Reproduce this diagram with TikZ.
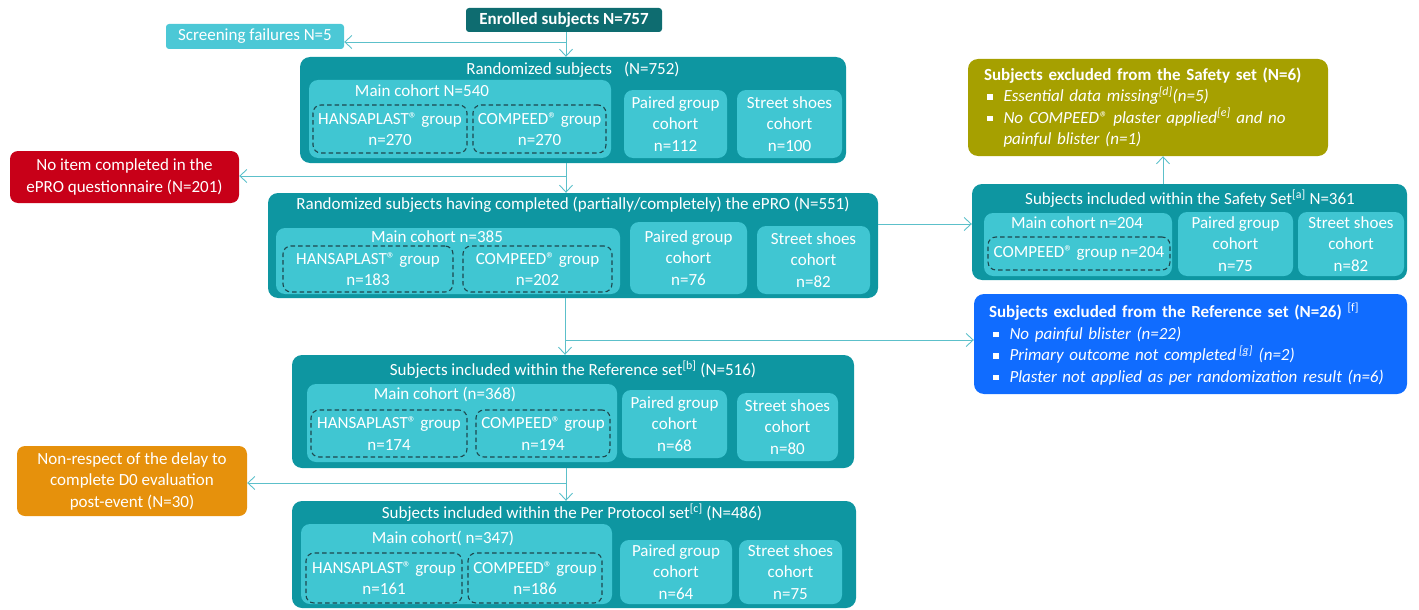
\documentclass[tikz,border=0pt]{standalone}
\usepackage{fontspec}
\setmainfont{Carlito}
\usetikzlibrary{arrows.meta}
\definecolor{darkteal}{RGB}{14,108,112}
\definecolor{midteal}{RGB}{14,150,161}
\definecolor{lightteal}{RGB}{64,198,210}
\definecolor{screencol}{RGB}{76,200,214}
\definecolor{redcol}{RGB}{200,0,24}
\definecolor{olivecol}{RGB}{166,160,0}
\definecolor{bluecol}{RGB}{16,108,255}
\definecolor{orangecol}{RGB}{230,145,12}
\definecolor{conncol}{RGB}{92,192,202}
\definecolor{dashcol}{RGB}{30,72,78}
\newcommand{\bul}{\raisebox{2pt}{\rule{5.5pt}{5.5pt}}}
\begin{document}
\begin{tikzpicture}[x=1pt,y=-1pt,
  font=\fontsize{17}{21.5}\selectfont,
  outerbox/.style={fill=midteal, rounded corners=10pt, inner sep=0pt},
  innerbox/.style={fill=lightteal, rounded corners=9pt, inner sep=0pt, text=white, align=center},
  dashbox/.style={draw=dashcol, dash pattern=on 4.5pt off 3pt, line width=1.1pt, rounded corners=8pt, inner sep=0pt, text=white, align=center},
  solidbox/.style={rounded corners=8pt, inner sep=0pt, text=white, align=center},
  title/.style={text=white, inner sep=0pt},
  conn/.style={draw=conncol, line width=0.9pt},
  arr/.style={conn, -{Straight Barb[length=7pt,width=13pt,line width=0.9pt]}}
]
\useasboundingbox (0,0) rectangle (1419,610);

% Enrolled and screening
\node[solidbox, fill=darkteal, rounded corners=3pt, minimum width=196, minimum height=24, font=\fontsize{17}{21.5}\selectfont\bfseries] (enrolled) at (564,20) {Enrolled subjects N=757};
\node[solidbox, fill=screencol, rounded corners=3pt, minimum width=178, minimum height=25] (screen) at (255,36.5) {Screening failures N=5};

% Randomized
\node[outerbox, minimum width=546, minimum height=106] (rand) at (573,110) {};
\node[title] (randt) at (573,70) {Randomized subjects\hspace{0.7em}(N=752)};
\node[innerbox, minimum width=302, minimum height=78] (rmain) at (460,119) {};
\node[title] (rmaint) at (422,91) {Main cohort N=540};
\node[dashbox, minimum width=154, minimum height=48] (rh) at (390,129) {HANSAPLAST® group\\n=270};
\node[dashbox, minimum width=133, minimum height=48] (rc) at (539.5,129) {COMPEED® group\\n=270};
\node[innerbox, minimum width=103, minimum height=68] (rp) at (675.5,124) {Paired group\\cohort\\n=112};
\node[innerbox, minimum width=105, minimum height=68] (rs) at (789.5,124) {Street shoes\\cohort\\n=100};

% Red
\node[solidbox, fill=redcol, minimum width=229, minimum height=52] (red) at (124.5,177) {No item completed in the\\ePRO questionnaire (N=201)};

% ePRO
\node[outerbox, minimum width=610, minimum height=105] (epro) at (573,245.5) {};
\node[title] (eprot) at (573,205) {Randomized subjects having completed (partially/completely) the ePRO (N=551)};
\node[innerbox, minimum width=344, minimum height=66] (emain) at (448,261) {};
\node[title] (emaint) at (437,237) {Main cohort n=385};
\node[dashbox, minimum width=170, minimum height=46] (eh) at (368,269) {HANSAPLAST® group\\n=183};
\node[dashbox, minimum width=149, minimum height=46] (ec) at (537.5,269) {COMPEED® group\\n=202};
\node[innerbox, minimum width=117, minimum height=72] (ep) at (688.5,258) {Paired group\\cohort\\n=76};
\node[innerbox, minimum width=113, minimum height=68] (es) at (813.5,260) {Street shoes\\cohort\\n=82};

% Safety set
\node[outerbox, minimum width=435, minimum height=96] (safety) at (1189.5,232) {};
\node[title] (safetyt) at (1190,199) {Subjects included within the Safety Set\textsuperscript{[a]} N=361};
\node[innerbox, minimum width=188, minimum height=63] (smain) at (1078,244.5) {};
\node[title] (smaint) at (1077,223) {Main cohort n=204};
\node[dashbox, minimum width=182, minimum height=33] (sc) at (1079,253.5) {COMPEED® group n=204};
\node[innerbox, minimum width=115, minimum height=64] (sp) at (1235.5,244) {Paired group\\cohort\\n=75};
\node[innerbox, minimum width=106, minimum height=64] (ss) at (1351,244) {Street shoes\\cohort\\n=82};

% Olive
\node[fill=olivecol, rounded corners=10pt, text=white, minimum width=360, minimum height=97, inner xsep=16pt, inner ysep=0pt, text width=328pt, align=left] (olive) at (1148,107.5) {%
{\bfseries Subjects excluded from the Safety set (N=6)}\\
\hspace*{3pt}\bul\hspace{11pt}\textit{Essential data missing\textsuperscript{[d]}(n=5)}\\
\hspace*{3pt}\bul\hspace{11pt}\textit{No COMPEED® plaster applied\textsuperscript{[e]} and no}\\
\hspace*{19.5pt}\textit{painful blister (n=1)}};

% Blue
\node[fill=bluecol, rounded corners=10pt, text=white, minimum width=433, minimum height=100, inner xsep=15pt, inner ysep=0pt, text width=403pt, align=left] (blue) at (1190.5,344) {%
{\bfseries Subjects excluded from the Reference set (N=26)} \textsuperscript{[f]}\\
\hspace*{4pt}\bul\hspace{11pt}\textit{No painful blister (n=22)}\\
\hspace*{4pt}\bul\hspace{11pt}\textit{Primary outcome not completed\,\textsuperscript{[g]} (n=2)}\\
\hspace*{4pt}\bul\hspace{11pt}\textit{Plaster not applied as per randomization result (n=6)}};

% Reference set
\node[outerbox, minimum width=562, minimum height=113] (ref) at (573,411.5) {};
\node[title] (reft) at (573,370) {Subjects included within the Reference set\textsuperscript{[b]} (N=516)};
\node[innerbox, minimum width=310, minimum height=78] (fmain) at (462,423) {};
\node[title] (fmaint) at (445,394) {Main cohort (n=368)};
\node[dashbox, minimum width=156, minimum height=47] (fh) at (389,433.5) {HANSAPLAST® group\\n=174};
\node[dashbox, minimum width=134, minimum height=47] (fc) at (543,433.5) {COMPEED® group\\n=194};
\node[innerbox, minimum width=105, minimum height=68] (fp) at (674.5,424) {Paired group\\cohort\\n=68};
\node[innerbox, minimum width=101, minimum height=68] (fs) at (787.5,427) {Street shoes\\cohort\\n=80};

% Orange
\node[solidbox, fill=orangecol, minimum width=230, minimum height=70] (orange) at (132,481) {Non-respect of the delay to\\complete D0 evaluation\\post-event (N=30)};

% Per protocol set
\node[outerbox, minimum width=564, minimum height=107] (pp) at (574,554.5) {};
\node[title] (ppt) at (572,513) {Subjects included within the Per Protocol set\textsuperscript{[c]} (N=486)};
\node[innerbox, minimum width=311, minimum height=80] (pmain) at (456.5,564) {};
\node[title] (pmaint) at (443,538) {Main cohort( n=347)};
\node[dashbox, minimum width=156, minimum height=50] (ph) at (384,578) {HANSAPLAST® group\\n=161};
\node[dashbox, minimum width=134, minimum height=50] (pc) at (535,578) {COMPEED® group\\n=186};
\node[innerbox, minimum width=112, minimum height=64] (ppc) at (676,572) {Paired group\\cohort\\n=64};
\node[innerbox, minimum width=103, minimum height=64] (psc) at (790.5,572) {Street shoes\\cohort\\n=75};

% Junction coordinates
\coordinate (j0) at (566,32);
\coordinate (j1) at (566,42);
\coordinate (j2t) at (566,163);
\coordinate (j2) at (566,176);
\coordinate (j3t) at (565,298);
\coordinate (j3) at (565,340);
\coordinate (j4) at (878,224);
\coordinate (j5) at (1163,184);
\coordinate (j6t) at (566,468);
\coordinate (j6) at (566,483);

% Connectors
\draw[arr] (j0) -- (j0 |- rand.north);
\draw[arr] (j1) -- (j1 -| screen.east);
\draw[arr] (j2t) -- (j2t |- epro.north);
\draw[arr] (j2) -- (j2 -| red.east);
\draw[arr] (j3t) -- (j3t |- ref.north);
\draw[arr] (j3) -- (j3 -| blue.west);
\draw[arr] (j4) -- (j4 -| safety.west);
\draw[arr] (j5) -- (j5 |- olive.south);
\draw[arr] (j6t) -- (j6t |- pp.north);
\draw[arr] (j6) -- (j6 -| orange.east);
\end{tikzpicture}
\end{document}
